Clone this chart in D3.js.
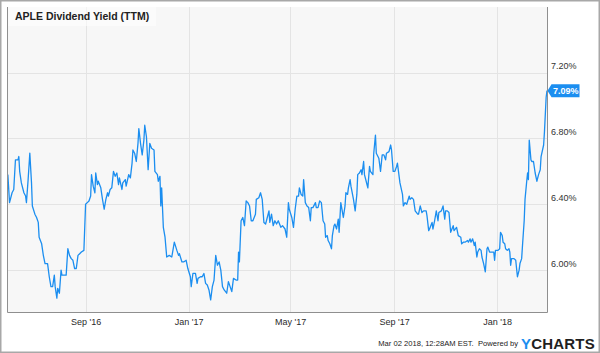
<!DOCTYPE html>
<html>
<head>
<meta charset="utf-8">
<script src="https://cdn.jsdelivr.net/npm/d3@7"></script>
<style>
  body { margin: 0; background: #fff; }
  svg { display: block; font-family: "Liberation Sans", Arial, sans-serif; }
</style>
</head>
<body>
<div id="chart"></div>
<script>
// APLE dividend yield (TTM)
const dates = [
  "2016-06-01","2016-06-03","2016-06-06","2016-06-08","2016-06-10","2016-06-13","2016-06-14","2016-06-15","2016-06-17","2016-06-20",
  "2016-06-22","2016-06-23","2016-06-25","2016-06-27","2016-06-29","2016-06-30","2016-07-03","2016-07-05","2016-07-07","2016-07-08",
  "2016-07-11","2016-07-13","2016-07-15","2016-07-18","2016-07-20","2016-07-22","2016-07-24","2016-07-26","2016-07-27","2016-07-29",
  "2016-07-30","2016-08-01","2016-08-03","2016-08-04","2016-08-06","2016-08-09","2016-08-11","2016-08-13","2016-08-15","2016-08-17",
  "2016-08-19","2016-08-21","2016-08-23","2016-08-25","2016-08-27","2016-08-30","2016-09-01","2016-09-03","2016-09-05","2016-09-07",
  "2016-09-08","2016-09-10","2016-09-12","2016-09-13","2016-09-15","2016-09-16","2016-09-19","2016-09-21","2016-09-23","2016-09-25",
  "2016-09-27","2016-09-28","2016-09-30","2016-10-02","2016-10-04","2016-10-06","2016-10-08","2016-10-10","2016-10-11","2016-10-14",
  "2016-10-15","2016-10-18","2016-10-19","2016-10-22","2016-10-24","2016-10-26","2016-10-27","2016-10-29","2016-10-31","2016-11-02",
  "2016-11-03","2016-11-05","2016-11-07","2016-11-09","2016-11-10","2016-11-12","2016-11-14","2016-11-16","2016-11-18","2016-11-21",
  "2016-11-22","2016-11-25","2016-11-26","2016-11-28","2016-11-29","2016-11-30","2016-12-02","2016-12-04","2016-12-06","2016-12-09",
  "2016-12-12","2016-12-15","2016-12-18","2016-12-20","2016-12-21","2016-12-24","2016-12-26","2016-12-29","2016-12-31",
  "2017-01-03","2017-01-04","2017-01-06","2017-01-09","2017-01-11","2017-01-12","2017-01-15","2017-01-17","2017-01-19","2017-01-21",
  "2017-01-23","2017-01-25","2017-01-27","2017-01-29","2017-01-31","2017-02-02","2017-02-04","2017-02-06","2017-02-08","2017-02-10",
  "2017-02-12","2017-02-15","2017-02-17","2017-02-19","2017-02-21","2017-02-23","2017-02-26","2017-02-28","2017-03-01","2017-03-02",
  "2017-03-04","2017-03-06","2017-03-08","2017-03-10","2017-03-12","2017-03-14","2017-03-16","2017-03-18","2017-03-21","2017-03-22",
  "2017-03-25","2017-03-27","2017-03-29","2017-03-31","2017-04-02","2017-04-04","2017-04-06","2017-04-07","2017-04-09","2017-04-11",
  "2017-04-13","2017-04-15","2017-04-17","2017-04-20","2017-04-22","2017-04-25","2017-04-27","2017-04-29","2017-04-30","2017-05-03",
  "2017-05-05","2017-05-07","2017-05-09","2017-05-11","2017-05-12","2017-05-14","2017-05-16","2017-05-17","2017-05-19","2017-05-21",
  "2017-05-23","2017-05-25","2017-05-26","2017-05-28","2017-05-31","2017-06-01","2017-06-03","2017-06-05","2017-06-07","2017-06-09",
  "2017-06-11","2017-06-12","2017-06-14","2017-06-15","2017-06-17","2017-06-19","2017-06-20","2017-06-22","2017-06-23","2017-06-25",
  "2017-06-27","2017-06-28","2017-06-30","2017-07-03","2017-07-05","2017-07-06","2017-07-08","2017-07-09","2017-07-11","2017-07-12",
  "2017-07-15","2017-07-17","2017-07-19","2017-07-20","2017-07-22","2017-07-24","2017-07-25","2017-07-27","2017-07-28","2017-07-31",
  "2017-08-01","2017-08-03","2017-08-04","2017-08-07","2017-08-08","2017-08-10","2017-08-11","2017-08-14","2017-08-16","2017-08-18",
  "2017-08-20","2017-08-22","2017-08-23","2017-08-26","2017-08-28","2017-08-29","2017-08-31","2017-09-02","2017-09-04","2017-09-05",
  "2017-09-07","2017-09-08","2017-09-11","2017-09-12","2017-09-14","2017-09-16","2017-09-19","2017-09-20","2017-09-22","2017-09-24",
  "2017-09-26","2017-09-29","2017-09-30","2017-10-02","2017-10-04","2017-10-06","2017-10-09","2017-10-10","2017-10-12","2017-10-13",
  "2017-10-16","2017-10-17","2017-10-19","2017-10-21","2017-10-23","2017-10-24","2017-10-27","2017-10-29","2017-10-31","2017-11-01",
  "2017-11-03","2017-11-05","2017-11-07","2017-11-10","2017-11-11","2017-11-14","2017-11-16","2017-11-19","2017-11-20","2017-11-22",
  "2017-11-24","2017-11-27","2017-11-28","2017-11-30","2017-12-01","2017-12-03","2017-12-05","2017-12-06","2017-12-08","2017-12-09",
  "2017-12-11","2017-12-13","2017-12-14","2017-12-16","2017-12-18","2017-12-20","2017-12-21","2017-12-23","2017-12-25","2017-12-28",
  "2017-12-29","2017-12-30",
  "2018-01-02","2018-01-04","2018-01-05","2018-01-07","2018-01-08","2018-01-10","2018-01-11","2018-01-13","2018-01-15","2018-01-16",
  "2018-01-17","2018-01-18","2018-01-19","2018-01-21","2018-01-23","2018-01-24","2018-01-25","2018-01-27","2018-01-28","2018-01-30",
  "2018-01-31","2018-02-02","2018-02-03","2018-02-05","2018-02-06","2018-02-07","2018-02-08","2018-02-10","2018-02-11","2018-02-13",
  "2018-02-15","2018-02-17","2018-02-19","2018-02-21","2018-02-22","2018-02-25","2018-02-26","2018-02-28","2018-03-01"
];

const yields = [
  6.58,6.41,6.47,6.49,6.67,6.67,6.69,6.60,6.53,6.47,
  6.45,6.41,6.55,6.71,6.53,6.39,6.34,6.32,6.29,6.20,
  6.16,6.09,6.04,6.04,5.96,5.90,5.90,5.97,5.90,5.83,
  5.89,5.86,6.00,5.97,5.97,5.97,6.13,6.09,6.07,6.06,
  6.01,6.01,6.09,6.10,6.11,6.12,6.40,6.41,6.42,6.45,
  6.58,6.51,6.47,6.59,6.52,6.54,6.50,6.43,6.37,6.43,
  6.47,6.45,6.49,6.50,6.60,6.57,6.59,6.52,6.56,6.49,
  6.53,6.55,6.51,6.58,6.56,6.65,6.73,6.71,6.66,6.77,
  6.86,6.77,6.70,6.79,6.88,6.81,6.61,6.77,6.74,6.73,
  6.60,6.58,6.54,6.57,6.39,6.50,6.26,6.20,6.08,6.09,
  6.08,6.17,6.12,6.09,6.10,6.05,6.05,6.06,6.01,
  5.96,5.90,5.98,5.98,5.92,5.95,5.96,5.96,5.98,5.92,
  5.91,5.88,5.82,5.90,5.94,6.09,6.03,6.05,6.00,5.90,
  5.88,5.86,5.93,5.90,5.87,5.95,5.94,5.94,6.11,6.05,
  6.30,6.32,6.27,6.42,6.41,6.39,6.30,6.30,6.34,6.43,
  6.44,6.47,6.43,6.29,6.28,6.32,6.36,6.29,6.34,6.27,
  6.30,6.28,6.30,6.26,6.27,6.25,6.20,6.41,6.37,6.32,
  6.26,6.37,6.45,6.45,6.50,6.46,6.45,6.55,6.41,6.39,
  6.38,6.30,6.38,6.38,6.41,6.38,6.38,6.42,6.41,6.30,
  6.28,6.20,6.21,6.18,6.16,6.13,6.21,6.27,6.28,6.25,
  6.31,6.23,6.41,6.32,6.39,6.47,6.46,6.50,6.55,6.51,
  6.43,6.36,6.46,6.58,6.59,6.61,6.58,6.66,6.58,6.52,
  6.50,6.63,6.60,6.58,6.71,6.82,6.71,6.68,6.60,6.70,
  6.70,6.67,6.71,6.72,6.76,6.73,6.60,6.60,6.63,6.65,
  6.57,6.53,6.46,6.39,6.41,6.40,6.45,6.43,6.44,6.43,
  6.36,6.34,6.34,6.39,6.35,6.36,6.36,6.33,6.24,6.25,
  6.29,6.25,6.30,6.36,6.30,6.35,6.36,6.39,6.31,6.36,
  6.36,6.35,6.23,6.27,6.24,6.26,6.21,6.20,6.16,6.17,
  6.17,6.18,6.17,6.19,6.17,6.19,6.15,6.17,6.08,6.11,
  6.13,6.12,6.08,6.04,5.99,6.13,6.14,6.11,6.11,6.11,
  6.06,6.12,
  6.12,6.13,6.23,6.21,6.17,6.16,6.13,6.12,6.13,6.11,
  6.03,6.07,6.07,6.07,6.06,6.01,5.96,6.00,6.04,6.07,
  6.15,6.30,6.43,6.54,6.59,6.55,6.79,6.67,6.66,6.66,
  6.59,6.54,6.58,6.61,6.69,6.76,6.84,7.05,7.09
];

const yTicks = [6.0, 6.4, 6.8, 7.2];
const xTickDates = ["2016-09-01", "2017-01-01", "2017-05-01", "2017-09-01", "2018-01-01"];
const xTickLabels = ["Sep '16", "Jan '17", "May '17", "Sep '17", "Jan '18"];
const xDomain = ["2016-05-31", "2018-03-01"];
const yDomain = [5.746, 7.598];

const chartTitle = "APLE Dividend Yield (TTM)";
const footerText = "Mar 02 2018, 12:28AM EST.  Powered by";

const W = 600, H = 353;
const plot = { left: 7, right: 547, top: 7, bottom: 312 };
const lineColor = "#1b8ef0";

const parse = d3.timeParse("%Y-%m-%d");
const data = dates.map((d, i) => ({ date: parse(d), value: yields[i] }));

const svg = d3.select("#chart").append("svg")
  .attr("width", W)
  .attr("height", H);

// outer frame
svg.append("rect")
  .attr("x", 0.75).attr("y", 0.75)
  .attr("width", W - 1.5).attr("height", H - 1.5)
  .attr("fill", "#fff")
  .attr("stroke", "#a8a8a8")
  .attr("stroke-width", 1.5);

const x = d3.scaleTime()
  .domain(xDomain.map(parse))
  .range([plot.left, plot.right]);

const y = d3.scaleLinear()
  .domain(yDomain)
  .range([plot.bottom, plot.top]);

// plot background
svg.append("rect")
  .attr("x", plot.left).attr("y", plot.top)
  .attr("width", plot.right - plot.left)
  .attr("height", plot.bottom - plot.top)
  .attr("fill", "#f7f7f7");

// grid lines
svg.append("g")
  .selectAll("line")
  .data(yTicks)
  .join("line")
  .attr("x1", plot.left).attr("x2", plot.right)
  .attr("y1", d => Math.round(y(d)) + 0.5)
  .attr("y2", d => Math.round(y(d)) + 0.5)
  .attr("stroke", "#e4e4e4");

svg.append("g")
  .selectAll("line")
  .data(xTickDates.map(parse))
  .join("line")
  .attr("x1", d => Math.round(x(d)) + 0.5)
  .attr("x2", d => Math.round(x(d)) + 0.5)
  .attr("y1", plot.top).attr("y2", plot.bottom)
  .attr("stroke", "#e4e4e4");

// title, on a faint white plate
svg.append("rect")
  .attr("x", plot.left + 1).attr("y", plot.top)
  .attr("width", 148).attr("height", 19)
  .attr("fill", "#fff")
  .attr("opacity", 0.55);

svg.append("text")
  .attr("x", 15).attr("y", 20)
  .attr("font-size", 10.5)
  .attr("font-weight", "bold")
  .attr("fill", "#222")
  .text(chartTitle);

// the series
const line = d3.line()
  .x(d => x(d.date))
  .y(d => y(d.value));

svg.append("path")
  .datum(data)
  .attr("d", line)
  .attr("fill", "none")
  .attr("stroke", lineColor)
  .attr("stroke-width", 1.3)
  .attr("stroke-linejoin", "round");

// plot border: left, right, bottom
svg.append("path")
  .attr("d", `M${plot.left + 0.5},${plot.top}V${plot.bottom + 0.5}H${plot.right + 0.5}V${plot.top}`)
  .attr("fill", "none")
  .attr("stroke", "#8f8f8f");

// y axis labels
const yAxis = svg.append("g")
  .attr("transform", `translate(${plot.right},0)`)
  .call(d3.axisRight(y)
    .tickValues(yTicks)
    .tickSize(0)
    .tickPadding(4)
    .tickFormat(d => d.toFixed(2) + "%"));
yAxis.select(".domain").remove();
yAxis.selectAll("text")
  .attr("y", -6.5)
  .attr("font-size", 9)
  .attr("font-family", "Liberation Sans, Arial, sans-serif")
  .attr("fill", "#333");

// x axis labels
const xAxis = svg.append("g")
  .attr("transform", `translate(0,${plot.bottom})`)
  .call(d3.axisBottom(x)
    .tickValues(xTickDates.map(parse))
    .tickSize(0)
    .tickPadding(7)
    .tickFormat((d, i) => xTickLabels[i]));
xAxis.select(".domain").remove();
xAxis.selectAll("text")
  .attr("font-size", 9)
  .attr("font-family", "Liberation Sans, Arial, sans-serif")
  .attr("fill", "#2a2a2a");

// last value badge
const last = data[data.length - 1];
const by = y(last.value);
const bx = plot.right + 0.5;
svg.append("path")
  .attr("d", `M${bx},${by}L${bx + 4},${by - 6.5}H${bx + 32}V${by + 6.5}H${bx + 4}Z`)
  .attr("fill", lineColor);
svg.append("text")
  .attr("x", bx + 5.5).attr("y", by + 3.2)
  .attr("font-size", 9)
  .attr("font-weight", "bold")
  .attr("fill", "#fff")
  .text(last.value.toFixed(2) + "%");

// footer
svg.append("text")
  .attr("x", 518).attr("y", 346)
  .attr("text-anchor", "end")
  .attr("font-size", 7.6)
  .attr("fill", "#222")
  .style("white-space", "pre")
  .text(footerText);

const logo = svg.append("text")
  .attr("x", 521).attr("y", 349)
  .attr("font-size", 15)
  .attr("font-weight", "bold")
  .attr("letter-spacing", 0.2);
logo.append("tspan").attr("fill", "#1b8ef0").text("Y");
logo.append("tspan").attr("fill", "#1f1f1f").text("CHARTS");
</script>
</body>
</html>
